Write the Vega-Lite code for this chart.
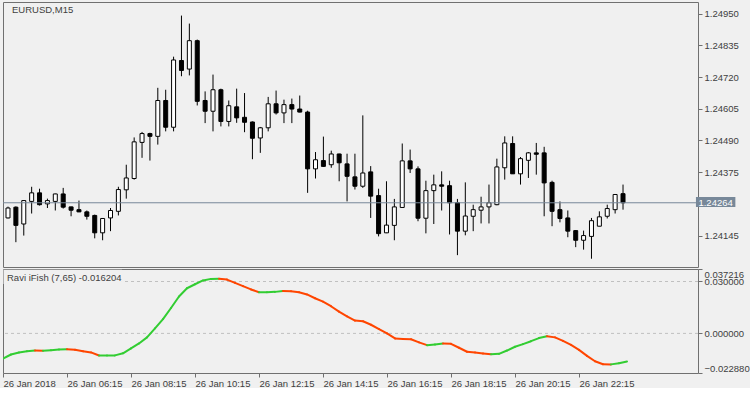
{
  "$schema": "https://vega.github.io/schema/vega-lite/v6.json",
  "background": "#f0f0f0",
  "padding": {"left": 2, "top": 1, "right": 0, "bottom": 0},
  "spacing": 0,
  "config": {
    "view": {"stroke": "#707070", "strokeWidth": 1},
    "font": "Liberation Sans",
    "axis": {"labelFont": "Liberation Sans", "labelFontSize": 9.5, "labelColor": "#404040", "tickColor": "#707070", "domain": false, "grid": false, "ticks": true, "tickSize": 4}
  },
  "datasets": {
    "bars": [
      {"t":"2018-01-26T04:15:00Z","o":1.24209,"h":1.24250,"l":1.24207,"c":1.24245,"v":-0.0145,"trend":"up"},
      {"t":"2018-01-26T04:30:00Z","o":1.24248,"h":1.24251,"l":1.24121,"c":1.24182,"v":-0.0122,"trend":"up"},
      {"t":"2018-01-26T04:45:00Z","o":1.24187,"h":1.24274,"l":1.24145,"c":1.24272,"v":-0.0110,"trend":"up"},
      {"t":"2018-01-26T05:00:00Z","o":1.24269,"h":1.24322,"l":1.24225,"c":1.24300,"v":-0.0103,"trend":"up"},
      {"t":"2018-01-26T05:15:00Z","o":1.24300,"h":1.24315,"l":1.24254,"c":1.24257,"v":-0.0099,"trend":"up"},
      {"t":"2018-01-26T05:30:00Z","o":1.24260,"h":1.24279,"l":1.24245,"c":1.24272,"v":-0.0100,"trend":"down"},
      {"t":"2018-01-26T05:45:00Z","o":1.24269,"h":1.24297,"l":1.24236,"c":1.24296,"v":-0.0097,"trend":"up"},
      {"t":"2018-01-26T06:00:00Z","o":1.24296,"h":1.24318,"l":1.24243,"c":1.24248,"v":-0.0093,"trend":"up"},
      {"t":"2018-01-26T06:15:00Z","o":1.24249,"h":1.24250,"l":1.24215,"c":1.24237,"v":-0.0092,"trend":"up"},
      {"t":"2018-01-26T06:30:00Z","o":1.24239,"h":1.24272,"l":1.24230,"c":1.24231,"v":-0.0095,"trend":"down"},
      {"t":"2018-01-26T06:45:00Z","o":1.24231,"h":1.24236,"l":1.24203,"c":1.24215,"v":-0.0103,"trend":"down"},
      {"t":"2018-01-26T07:00:00Z","o":1.24218,"h":1.24221,"l":1.24135,"c":1.24155,"v":-0.0110,"trend":"down"},
      {"t":"2018-01-26T07:15:00Z","o":1.24155,"h":1.24208,"l":1.24128,"c":1.24207,"v":-0.0128,"trend":"down"},
      {"t":"2018-01-26T07:30:00Z","o":1.24209,"h":1.24245,"l":1.24161,"c":1.24236,"v":-0.01275,"trend":"up"},
      {"t":"2018-01-26T07:45:00Z","o":1.24233,"h":1.24322,"l":1.24218,"c":1.24312,"v":-0.0127,"trend":"up"},
      {"t":"2018-01-26T08:00:00Z","o":1.24311,"h":1.24402,"l":1.24279,"c":1.24354,"v":-0.0115,"trend":"up"},
      {"t":"2018-01-26T08:15:00Z","o":1.24352,"h":1.24501,"l":1.24348,"c":1.24485,"v":-0.0087,"trend":"up"},
      {"t":"2018-01-26T08:30:00Z","o":1.24483,"h":1.24521,"l":1.24427,"c":1.24515,"v":-0.0058,"trend":"up"},
      {"t":"2018-01-26T08:45:00Z","o":1.24515,"h":1.24518,"l":1.24417,"c":1.24505,"v":-0.0023,"trend":"up"},
      {"t":"2018-01-26T09:00:00Z","o":1.24505,"h":1.24681,"l":1.24475,"c":1.24635,"v":0.0029,"trend":"up"},
      {"t":"2018-01-26T09:15:00Z","o":1.24635,"h":1.24674,"l":1.24523,"c":1.24538,"v":0.0083,"trend":"up"},
      {"t":"2018-01-26T09:30:00Z","o":1.24538,"h":1.24794,"l":1.24523,"c":1.24782,"v":0.0147,"trend":"up"},
      {"t":"2018-01-26T09:45:00Z","o":1.24780,"h":1.24943,"l":1.24723,"c":1.24744,"v":0.0213,"trend":"up"},
      {"t":"2018-01-26T10:00:00Z","o":1.24749,"h":1.24914,"l":1.24726,"c":1.24852,"v":0.0261,"trend":"up"},
      {"t":"2018-01-26T10:15:00Z","o":1.24852,"h":1.24856,"l":1.24617,"c":1.24632,"v":0.0284,"trend":"up"},
      {"t":"2018-01-26T10:30:00Z","o":1.24635,"h":1.24668,"l":1.24553,"c":1.24596,"v":0.0306,"trend":"up"},
      {"t":"2018-01-26T10:45:00Z","o":1.24596,"h":1.24729,"l":1.24523,"c":1.24674,"v":0.0315,"trend":"up"},
      {"t":"2018-01-26T11:00:00Z","o":1.24674,"h":1.24678,"l":1.24541,"c":1.24559,"v":0.0316,"trend":"up"},
      {"t":"2018-01-26T11:15:00Z","o":1.24559,"h":1.24635,"l":1.24541,"c":1.24616,"v":0.0311,"trend":"down"},
      {"t":"2018-01-26T11:30:00Z","o":1.24612,"h":1.24678,"l":1.24554,"c":1.24572,"v":0.0292,"trend":"down"},
      {"t":"2018-01-26T11:45:00Z","o":1.24574,"h":1.24662,"l":1.24520,"c":1.24556,"v":0.0273,"trend":"down"},
      {"t":"2018-01-26T12:00:00Z","o":1.24557,"h":1.24559,"l":1.24422,"c":1.24498,"v":0.0254,"trend":"down"},
      {"t":"2018-01-26T12:15:00Z","o":1.24499,"h":1.24539,"l":1.24445,"c":1.24536,"v":0.0238,"trend":"down"},
      {"t":"2018-01-26T12:30:00Z","o":1.24536,"h":1.24648,"l":1.24523,"c":1.24623,"v":0.02385,"trend":"up"},
      {"t":"2018-01-26T12:45:00Z","o":1.24623,"h":1.24671,"l":1.24584,"c":1.24590,"v":0.0240,"trend":"up"},
      {"t":"2018-01-26T13:00:00Z","o":1.24590,"h":1.24638,"l":1.24553,"c":1.24620,"v":0.0245,"trend":"up"},
      {"t":"2018-01-26T13:15:00Z","o":1.24620,"h":1.24642,"l":1.24553,"c":1.24604,"v":0.0244,"trend":"down"},
      {"t":"2018-01-26T13:30:00Z","o":1.24604,"h":1.24653,"l":1.24592,"c":1.24593,"v":0.0238,"trend":"down"},
      {"t":"2018-01-26T13:45:00Z","o":1.24593,"h":1.24598,"l":1.24300,"c":1.24387,"v":0.0225,"trend":"down"},
      {"t":"2018-01-26T14:00:00Z","o":1.24387,"h":1.24448,"l":1.24352,"c":1.24420,"v":0.0203,"trend":"down"},
      {"t":"2018-01-26T14:15:00Z","o":1.24417,"h":1.24504,"l":1.24394,"c":1.24396,"v":0.0184,"trend":"down"},
      {"t":"2018-01-26T14:30:00Z","o":1.24402,"h":1.24453,"l":1.24391,"c":1.24441,"v":0.0157,"trend":"down"},
      {"t":"2018-01-26T14:45:00Z","o":1.24441,"h":1.24442,"l":1.24342,"c":1.24409,"v":0.0126,"trend":"down"},
      {"t":"2018-01-26T15:00:00Z","o":1.24405,"h":1.24442,"l":1.24269,"c":1.24360,"v":0.0099,"trend":"down"},
      {"t":"2018-01-26T15:15:00Z","o":1.24358,"h":1.24442,"l":1.24312,"c":1.24324,"v":0.0074,"trend":"down"},
      {"t":"2018-01-26T15:30:00Z","o":1.24324,"h":1.24581,"l":1.24318,"c":1.24372,"v":0.0070,"trend":"down"},
      {"t":"2018-01-26T15:45:00Z","o":1.24376,"h":1.24397,"l":1.24209,"c":1.24288,"v":0.0050,"trend":"down"},
      {"t":"2018-01-26T16:00:00Z","o":1.24290,"h":1.24315,"l":1.24142,"c":1.24152,"v":0.0025,"trend":"down"},
      {"t":"2018-01-26T16:15:00Z","o":1.24155,"h":1.24342,"l":1.24154,"c":1.24183,"v":0.0000,"trend":"down"},
      {"t":"2018-01-26T16:30:00Z","o":1.24182,"h":1.24278,"l":1.24128,"c":1.24249,"v":-0.0029,"trend":"down"},
      {"t":"2018-01-26T16:45:00Z","o":1.24247,"h":1.24479,"l":1.24245,"c":1.24416,"v":-0.0032,"trend":"down"},
      {"t":"2018-01-26T17:00:00Z","o":1.24416,"h":1.24457,"l":1.24372,"c":1.24387,"v":-0.0034,"trend":"down"},
      {"t":"2018-01-26T17:15:00Z","o":1.24387,"h":1.24396,"l":1.24197,"c":1.24208,"v":-0.0052,"trend":"down"},
      {"t":"2018-01-26T17:30:00Z","o":1.24208,"h":1.24344,"l":1.24153,"c":1.24308,"v":-0.0068,"trend":"down"},
      {"t":"2018-01-26T17:45:00Z","o":1.24308,"h":1.24366,"l":1.24187,"c":1.24329,"v":-0.0064,"trend":"up"},
      {"t":"2018-01-26T18:00:00Z","o":1.24329,"h":1.24378,"l":1.24236,"c":1.24324,"v":-0.0058,"trend":"up"},
      {"t":"2018-01-26T18:15:00Z","o":1.24326,"h":1.24344,"l":1.24149,"c":1.24264,"v":-0.0060,"trend":"down"},
      {"t":"2018-01-26T18:30:00Z","o":1.24264,"h":1.24278,"l":1.24074,"c":1.24161,"v":-0.0083,"trend":"down"},
      {"t":"2018-01-26T18:45:00Z","o":1.24161,"h":1.24338,"l":1.24146,"c":1.24216,"v":-0.0106,"trend":"down"},
      {"t":"2018-01-26T19:00:00Z","o":1.24215,"h":1.24257,"l":1.24161,"c":1.24239,"v":-0.0110,"trend":"down"},
      {"t":"2018-01-26T19:15:00Z","o":1.24237,"h":1.24286,"l":1.24189,"c":1.24249,"v":-0.0116,"trend":"down"},
      {"t":"2018-01-26T19:30:00Z","o":1.24249,"h":1.24330,"l":1.24189,"c":1.24264,"v":-0.0120,"trend":"down"},
      {"t":"2018-01-26T19:45:00Z","o":1.24257,"h":1.24424,"l":1.24255,"c":1.24394,"v":-0.0118,"trend":"up"},
      {"t":"2018-01-26T20:00:00Z","o":1.24391,"h":1.24505,"l":1.24348,"c":1.24481,"v":-0.0099,"trend":"up"},
      {"t":"2018-01-26T20:15:00Z","o":1.24479,"h":1.24505,"l":1.24369,"c":1.24369,"v":-0.0077,"trend":"up"},
      {"t":"2018-01-26T20:30:00Z","o":1.24369,"h":1.24430,"l":1.24330,"c":1.24424,"v":-0.0062,"trend":"up"},
      {"t":"2018-01-26T20:45:00Z","o":1.24418,"h":1.24448,"l":1.24354,"c":1.24445,"v":-0.0045,"trend":"up"},
      {"t":"2018-01-26T21:00:00Z","o":1.24445,"h":1.24481,"l":1.24366,"c":1.24440,"v":-0.0027,"trend":"up"},
      {"t":"2018-01-26T21:15:00Z","o":1.24445,"h":1.24467,"l":1.24215,"c":1.24336,"v":-0.0016,"trend":"up"},
      {"t":"2018-01-26T21:30:00Z","o":1.24338,"h":1.24344,"l":1.24179,"c":1.24233,"v":-0.0023,"trend":"down"},
      {"t":"2018-01-26T21:45:00Z","o":1.24239,"h":1.24269,"l":1.24193,"c":1.24207,"v":-0.0043,"trend":"down"},
      {"t":"2018-01-26T22:00:00Z","o":1.24209,"h":1.24236,"l":1.24139,"c":1.24161,"v":-0.0066,"trend":"down"},
      {"t":"2018-01-26T22:15:00Z","o":1.24163,"h":1.24165,"l":1.24103,"c":1.24128,"v":-0.0095,"trend":"down"},
      {"t":"2018-01-26T22:30:00Z","o":1.24128,"h":1.24163,"l":1.24094,"c":1.24145,"v":-0.0130,"trend":"down"},
      {"t":"2018-01-26T22:45:00Z","o":1.24142,"h":1.24209,"l":1.24061,"c":1.24199,"v":-0.0161,"trend":"down"},
      {"t":"2018-01-26T23:00:00Z","o":1.24179,"h":1.24233,"l":1.24179,"c":1.24213,"v":-0.0178,"trend":"down"},
      {"t":"2018-01-26T23:15:00Z","o":1.24215,"h":1.24257,"l":1.24207,"c":1.24243,"v":-0.0179,"trend":"down"},
      {"t":"2018-01-26T23:30:00Z","o":1.24239,"h":1.24295,"l":1.24225,"c":1.24294,"v":-0.0172,"trend":"up"},
      {"t":"2018-01-26T23:45:00Z","o":1.24297,"h":1.24330,"l":1.24239,"c":1.24264,"v":-0.0162,"trend":"up"}
    ],
    "levels": [{"level": 0.03}, {"level": 0}],
    "price": [{"price": 1.24264, "label": "1.24264"}],
    "titles": [{"name": "EURUSD,M15", "ind": "Ravi iFish (7,65) -0.016204"}]
  },
  "vconcat": [
    {
      "width": 695,
      "height": 265,
      "layer": [
        {
          "data": {"name": "bars"},
          "mark": {"type": "rule", "color": "black", "strokeWidth": 1, "clip": true},
          "encoding": {
            "x": {"field": "t", "type": "temporal", "title": null,
                  "scale": {"type": "utc", "domain": [{"year": 2018, "month": 1, "date": 26, "hours": 4, "minutes": 15, "utc": true}, {"year": 2018, "month": 1, "date": 27, "hours": 1, "minutes": 58, "seconds": 8, "utc": true}]},
                  "axis": null},
            "y": {"field": "l", "type": "quantitative", "title": null,
                  "scale": {"domain": [1.24031, 1.249923], "zero": false, "nice": false},
                  "axis": {"orient": "right", "values": [1.24145, 1.24375, 1.2449, 1.24605, 1.2472, 1.24835, 1.2495], "format": ".5f", "labelPadding": 2, "labelOverlap": false, "title": null}},
            "y2": {"field": "h"}
          }
        },
        {
          "data": {"name": "bars"},
          "mark": {"type": "bar", "width": 4, "stroke": "black", "strokeWidth": 1, "clip": true},
          "encoding": {
            "x": {"field": "t", "type": "temporal", "title": null},
            "y": {"field": "o", "type": "quantitative", "title": null},
            "y2": {"field": "c"},
            "fill": {"condition": {"test": "datum.c > datum.o", "value": "white"}, "value": "black"}
          }
        },
        {
          "data": {"name": "price"},
          "mark": {"type": "rule", "color": "#778899", "strokeWidth": 1},
          "encoding": {
            "y": {"field": "price", "type": "quantitative", "title": null}
          }
        },
        {
          "data": {"name": "price"},
          "mark": {"type": "rect", "color": "#778899", "clip": false},
          "encoding": {
            "x": {"datum": {"year": 2018, "month": 1, "date": 27, "hours": 2, "minutes": 3, "seconds": 45, "utc": true}, "type": "temporal"},
            "x2": {"datum": {"year": 2018, "month": 1, "date": 27, "hours": 3, "minutes": 18, "seconds": 45, "utc": true}},
            "y": {"datum": 1.24285, "type": "quantitative"},
            "y2": {"datum": 1.24249}
          }
        },
        {
          "data": {"name": "price"},
          "mark": {"type": "text", "color": "white", "fontSize": 9.5, "font": "Liberation Sans", "align": "left", "baseline": "middle", "clip": false},
          "encoding": {
            "x": {"datum": {"year": 2018, "month": 1, "date": 27, "hours": 2, "minutes": 8, "seconds": 30, "utc": true}, "type": "temporal"},
            "y": {"field": "price", "type": "quantitative", "title": null},
            "text": {"field": "label"}
          }
        },
        {
          "data": {"name": "titles"},
          "mark": {"type": "text", "color": "#404040", "fontSize": 9.5, "font": "Liberation Sans", "align": "left", "baseline": "top", "dx": 4, "dy": 3},
          "encoding": {
            "x": {"datum": {"year": 2018, "month": 1, "date": 26, "hours": 4, "minutes": 15, "utc": true}, "type": "temporal"},
            "y": {"datum": 1.249923, "type": "quantitative"},
            "text": {"field": "name"}
          }
        }
      ]
    },
    {
      "width": 695,
      "height": 104,
      "layer": [
        {
          "data": {"name": "levels"},
          "mark": {"type": "rule", "color": "#c0c0c0", "strokeWidth": 1, "strokeDash": [3, 3]},
          "encoding": {
            "y": {"field": "level", "type": "quantitative", "title": null,
                  "scale": {"domain": [-0.02288, 0.037216], "zero": false, "nice": false},
                  "axis": {"orient": "right", "values": [-0.02288, 0, 0.03, 0.037216], "format": ".6f", "labelFlush": true, "labelOverlap": false, "labelPadding": 2, "title": null}}
          }
        },
        {
          "data": {"name": "titles"},
          "mark": {"type": "rect", "color": "#f0f0f0"},
          "encoding": {
            "x": {"datum": {"year": 2018, "month": 1, "date": 26, "hours": 4, "minutes": 16, "utc": true}, "type": "temporal"},
            "x2": {"datum": {"year": 2018, "month": 1, "date": 26, "hours": 7, "minutes": 58, "utc": true}},
            "y": {"datum": 0.0368, "type": "quantitative",
                  "axis": {"orient": "right", "values": [-0.02288, 0, 0.03, 0.037216], "format": ".6f", "labelFlush": true, "labelOverlap": false, "labelPadding": 2, "title": null}},
            "y2": {"datum": 0.0285}
          }
        },
        {
          "data": {"name": "bars", "format": {"parse": {"t": "date"}}},
          "transform": [
            {"window": [{"op": "lag", "field": "v", "as": "v0"}, {"op": "lag", "field": "t", "as": "t0"}], "sort": [{"field": "t"}]},
            {"filter": "datum.v0 != null"}
          ],
          "mark": {"type": "rule", "strokeWidth": 2, "strokeCap": "round", "clip": true},
          "encoding": {
            "x": {"field": "t0", "type": "temporal", "title": null,
                  "scale": {"type": "utc", "domain": [{"year": 2018, "month": 1, "date": 26, "hours": 4, "minutes": 15, "utc": true}, {"year": 2018, "month": 1, "date": 27, "hours": 1, "minutes": 58, "seconds": 8, "utc": true}]},
                  "axis": {"values": [
                    {"year": 2018, "month": 1, "date": 26, "hours": 4, "minutes": 15, "utc": true},
                    {"year": 2018, "month": 1, "date": 26, "hours": 6, "minutes": 15, "utc": true},
                    {"year": 2018, "month": 1, "date": 26, "hours": 8, "minutes": 15, "utc": true},
                    {"year": 2018, "month": 1, "date": 26, "hours": 10, "minutes": 15, "utc": true},
                    {"year": 2018, "month": 1, "date": 26, "hours": 12, "minutes": 15, "utc": true},
                    {"year": 2018, "month": 1, "date": 26, "hours": 14, "minutes": 15, "utc": true},
                    {"year": 2018, "month": 1, "date": 26, "hours": 16, "minutes": 15, "utc": true},
                    {"year": 2018, "month": 1, "date": 26, "hours": 18, "minutes": 15, "utc": true},
                    {"year": 2018, "month": 1, "date": 26, "hours": 20, "minutes": 15, "utc": true},
                    {"year": 2018, "month": 1, "date": 26, "hours": 22, "minutes": 15, "utc": true}
                  ],
                  "labelExpr": "utcFormat(datum.value, '%H:%M') == '04:15' ? '26 Jan 2018' : utcFormat(datum.value, '%d %b %H:%M')",
                  "labelAlign": "left", "labelPadding": 1, "labelFlush": false, "labelOverlap": false, "labelBound": false, "title": null}},
            "x2": {"field": "t"},
            "y": {"field": "v0", "type": "quantitative", "title": null,
                  "axis": {"orient": "right", "values": [-0.02288, 0, 0.03, 0.037216], "format": ".6f", "labelFlush": true, "labelOverlap": false, "labelPadding": 2, "title": null}},
            "y2": {"field": "v"},
            "color": {"field": "trend", "type": "nominal", "scale": {"domain": ["up", "down"], "range": ["#32cd32", "#ff4500"]}, "legend": null}
          }
        },
        {
          "data": {"name": "titles"},
          "mark": {"type": "text", "color": "#404040", "fontSize": 9.5, "font": "Liberation Sans", "align": "left", "baseline": "top", "dx": 4, "dy": 4},
          "encoding": {
            "x": {"datum": {"year": 2018, "month": 1, "date": 26, "hours": 4, "minutes": 15, "utc": true}, "type": "temporal"},
            "y": {"datum": 0.037216, "type": "quantitative",
                  "axis": {"orient": "right", "values": [-0.02288, 0, 0.03, 0.037216], "format": ".6f", "labelFlush": true, "labelOverlap": false, "labelPadding": 2, "title": null}},
            "text": {"field": "ind"}
          }
        }
      ]
    }
  ]
}
